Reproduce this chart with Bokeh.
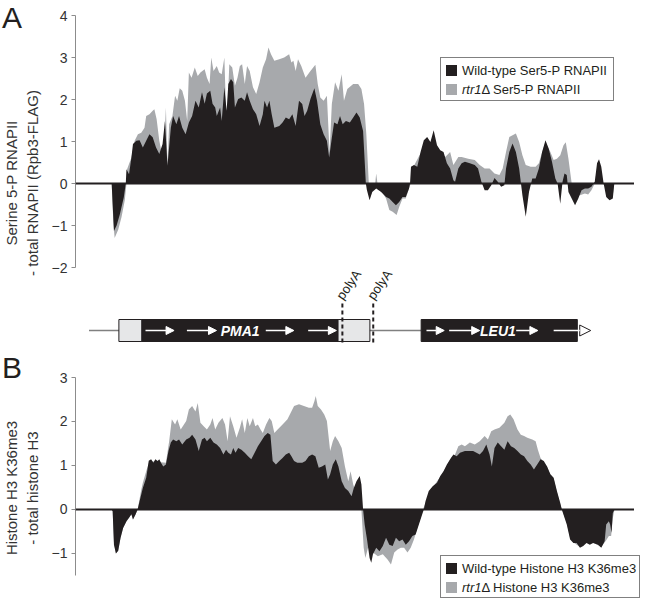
from bokeh.plotting import figure
from bokeh.models import (Range1d, FixedTicker, Arrow, Div, GridBox,
                          NormalHead, ColumnDataSource, Span)
from bokeh.embed import file_html
from bokeh.resources import INLINE
from bokeh.core.properties import value
import math

FONT = "Liberation Sans"
BLACK = "#231f20"
GRAY = "#a7a9ac"
LIGHT = "#e6e7e8"
AXIS = "#8c8c8c"
TXT = "#333333"

# ---------------- data (position along the locus, signal) ----------------
a_wt = [(111.7,0),(112.7,-0.5),(114,-1.13),(116.7,-1.0),(120,-0.73),(124,-0.33),(126,0),(126.7,0.34),
 (129.3,0.22),(131.7,0.62),(133.3,0.94),(136.7,1.02),(140,1.03),(143.3,0.86),(146.7,1.02),(150,1.17),
 (153.3,1.10),(156.7,0.86),(160,0.70),(163.3,0.94),(165.7,1.49),(168.3,0.42),(171.7,1.33),(174,1.61),
 (177.3,1.41),(180,1.61),(183.3,1.33),(186.7,1.17),(190,1.45),(193.3,1.61),(196.7,1.97),(200,1.81),
 (203.3,2.17),(206,1.90),(208.3,2.14),(211.7,2.21),(214,1.90),(216.7,1.81),(218.3,1.61),(221.7,1.81),
 (223.3,1.49),(226,2.29),(228.3,1.73),(230,2.37),(232.7,2.49),(235,2.41),(236.7,1.81),(240,2.01),
 (243.3,2.05),(246.7,1.97),(249,2.17),(251.7,1.97),(255,1.77),(258.3,1.65),(261.7,1.37),(265,1.65),
 (266.7,1.97),(269.3,1.81),(271.7,1.97),(274,1.65),(276.7,1.33),(281.7,1.37),(285,1.45),(288.3,1.57),
 (291.7,1.53),(295,1.65),(298.3,1.37),(301.7,1.97),(305,1.89),(307.3,1.61),(310,1.73),(313.3,2.01),
 (317.3,2.27),(320,1.97),(323.3,1.41),(326.7,1.17),(330,1.02),(332.3,0.62),(335,1.09),(337.3,1.45),
 (340.7,1.41),(343.3,1.61),(346,1.41),(349.3,1.49),(353.3,1.45),(356.7,1.57),(360,1.69),(363.3,1.57),
 (366.7,1.25),(368.5,0.46),(369.5,0),(370.5,-0.15),(373.3,-0.40),(376,-0.2),(380,-0.12),(385,-0.2),
 (390,-0.32),(393.3,-0.36),(396.7,-0.44),(400,-0.52),(403.3,-0.44),(406.7,-0.32),(410,-0.32),
 (413.3,-0.12),(414.3,0),(415.3,0.40),(418.3,0.44),(421.7,0.40),(425,0.75),(428.3,1.03),(431.7,1.11),
 (435,0.99),(438.3,1.27),(441.7,0.91),(445,0.79),(448.3,0.75),(451.7,0.48),(455,0.36),(458.3,0.08),
 (460,0.04),(463.3,0.36),(466.7,0.48),(470,0.52),(475,0.48),(480,0.44),(483.3,0.36),(486.7,0.04),
 (490,-0.16),(493.3,-0.16),(496.7,-0.04),(500,0.13),(503.3,0.04),(506.7,-0.08),(510,-0.04),(511.7,0.36),
 (515,0.75),(518.3,0.95),(521.7,0.75),(525,0.36),(528.3,-0.28),(531.7,-0.79),(535,-0.20),(538.3,0.12),
 (541.7,0.12),(545,0.36),(548.3,0.75),(551.7,1.03),(555,0.83),(558.3,0.52),(561.7,0.12),(564,0),
 (566.7,-0.48),(569,0.04),(571,0.24),(573.3,0.20),(575,-0.20),(578.3,-0.36),(581.7,-0.52),(585,-0.36),
 (588.3,-0.16),(591.7,-0.12),(595,-0.12),(598.3,-0.08),(601.7,0.04),(604,0.48),(606,0.58),(608.3,0.40),
 (610.7,0),(613.3,-0.32),(616.7,-0.40),(620,-0.36),(621.5,0)]

a_rtr1 = [(111.7,0),(113.3,-0.9),(114.7,-1.30),(118.3,-1.1),(121.7,-0.8),(125,-0.4),(126.7,0),(127.3,0.34),
 (131.7,0.62),(135,1.02),(138.3,1.17),(141.7,1.21),(145,1.33),(146.7,1.61),(150,1.65),(153.3,1.73),
 (155,1.77),(157.3,1.53),(160,1.02),(162.7,0.70),(165,0.94),(166.7,1.81),(168.3,0.42),(170,1.41),
 (173.3,1.61),(176,2.09),(178.3,1.97),(180.7,2.27),(183.3,2.21),(186,1.97),(188.3,1.49),(190,2.64),
 (192.7,2.52),(196,2.76),(199,2.56),(201.7,2.64),(206,2.72),(208.3,2.52),(211,2.37),(212.7,3.00),
 (215,2.68),(218.3,2.80),(220.7,2.64),(223.3,2.60),(226,3.00),(228.3,1.25),(231,2.84),(234,2.76),
 (236.7,2.33),(239.3,2.52),(241.7,2.80),(244,2.84),(246.7,2.37),(249,2.80),(251.7,2.68),(255,2.29),
 (258.3,2.13),(261.7,2.41),(265,2.76),(268.3,2.96),(270.7,3.24),(273.3,3.08),(276.7,2.92),(281.7,2.96),
 (286.7,3.00),(291.7,3.08),(294,2.88),(296,2.92),(298.3,2.68),(300.7,2.96),(304,2.80),(308.3,2.52),
 (313.3,2.68),(318.3,2.83),(320.7,2.37),(323.3,2.05),(326.7,1.97),(330,2.09),(332.7,0.74),(335,1.89),
 (338.3,2.41),(341.7,2.21),(345,2.60),(347.3,1.97),(350.7,2.25),(356.7,2.37),(361.7,2.37),(365,2.25),
 (367.7,1.89),(370,1.17),(371.7,0.38),(372.5,0),(374,-0.32),(376.7,-0.12),(379,0),(380,0.24),(381.3,0),
 (385,-0.16),(390,-0.36),(393.3,-0.63),(396.7,-0.67),(400.7,-0.75),(403.3,-0.56),(406.7,-0.36),
 (410,-0.36),(413.3,-0.12),(415,0),(416.7,0.35),(426.7,0.8),(436.7,1.0),(446.7,0.7),(450,0.63),
 (455,0.75),(458.3,0.44),(463.3,0.63),(466.7,0.63),(473.3,0.59),(480,0.56),(485,0.44),(490,0.36),
 (495,0.36),(500,0.24),(505,0.20),(508.3,0.36),(511.7,0.75),(515,1.11),(518.3,1.15),(521.7,1.19),
 (525,0.99),(528.3,0.67),(531.7,0.44),(536.7,0.40),(541.7,0.40),(545,0.48),(548.3,0.75),(551.7,0.99),
 (556.7,0.75),(560,0.56),(563.3,0.59),(566.7,0.67),(570,0.91),(572.3,0.98),(575,0.59),(578.3,0),
 (581.7,-0.28),(586.7,-0.28),(591.7,-0.24),(595,-0.26),(598.3,-0.16),(601.7,0),(605,0.52),(610,0),
 (616.7,-0.2),(620,-0.28),(621.5,0)]

b_wt = [(111.7,0),(112.7,-0.04),(114,-0.80),(116,-1.0),(118.3,-0.94),(120.7,-0.64),(123.3,-0.42),
 (126.7,-0.27),(129.3,-0.19),(131.7,-0.11),(133.3,-0.23),(136,-0.11),(138,0),(140,0.19),(143.3,0.49),
 (146.7,0.72),(149.3,1.11),(151.7,1.14),(154,1.06),(156,1.14),(158.3,1.10),(160,1.14),(161.7,1.06),
 (164,0.98),(166.7,1.02),(169.3,1.33),(171.7,1.52),(174,1.59),(177.3,1.55),(180,1.59),(183.3,1.48),
 (187.3,1.59),(190.7,1.63),(193.3,1.70),(196.7,1.59),(200,1.33),(203.3,1.59),(206,1.63),(208.3,1.55),
 (211.7,1.63),(215,1.52),(218.3,1.48),(221.7,1.40),(225,1.25),(227.7,1.36),(230,1.29),(232.7,1.25),
 (235,1.40),(237.3,1.29),(240,1.40),(243.3,1.36),(246.7,1.29),(250,1.21),(253.3,1.14),(256.7,1.29),
 (260,1.44),(263.3,1.55),(266.7,1.67),(270,1.74),(272.7,1.70),(275,1.10),(278.3,1.02),(281.7,1.10),
 (285,1.17),(288.3,1.25),(291.7,1.29),(294,1.21),(296.7,1.10),(300,1.06),(305,1.06),(308.3,1.10),
 (311.7,1.21),(315,1.25),(318.3,1.21),(321.7,0.95),(325,0.98),(328.3,1.02),(331,0.68),(333.3,0.80),
 (336,1.02),(339,1.14),(341.7,0.98),(345,0.64),(348.3,0.49),(351.7,0.42),(355,0.30),(357.3,0.49),
 (360,0.64),(363.3,0.76),(365,0.57),(366.7,0),(368.3,-0.34),(370.7,-0.68),(373.3,-1.10),(375,-1.21),
 (376.7,-1.02),(380,-0.87),(383.3,-0.95),(386.7,-0.83),(390,-0.64),(393.3,-0.80),(396.7,-0.83),
 (400,-0.64),(403.3,-0.72),(406.7,-0.68),(410,-0.80),(413.3,-0.72),(416.7,-0.60),(420,-0.57),
 (423.3,-0.34),(426.7,-0.11),(428.3,0),(430,0.19),(433.3,0.42),(437.3,0.53),(441.7,0.61),(445,0.76),
 (448.3,0.87),(451.7,1.02),(455,1.14),(458.3,1.25),(461.7,1.21),(465,1.29),(470,1.33),(475,1.33),
 (478.3,1.33),(481.7,1.29),(485,1.25),(488.3,1.33),(491.7,1.48),(495,1.25),(497.3,0.98),(500,1.40),
 (503.3,1.52),(506.7,1.44),(510,1.36),(513.3,1.55),(516.7,1.44),(520,1.40),(523.3,1.33),(526.7,1.25),
 (530,1.21),(533.3,1.10),(536.7,1.02),(540,0.91),(543.3,1.02),(546.7,1.14),(550,1.10),(553.3,0.98),
 (556.7,0.80),(560,0.72),(563.3,0.42),(566.7,0.15),(568.3,0),(573.3,-0.34),(576.7,-0.68),(580,-0.76),
 (583.3,-0.76),(586.7,-0.87),(590,-0.83),(593.3,-0.76),(596.7,-0.80),(600,-0.76),(605,-0.80),
 (608.3,-0.87),(611.7,-0.72),(613.3,-0.34),(616,-0.27),(617.3,-0.34),(618.7,-0.53),(620,-0.08),(621.7,0)]

b_rtr1 = [(111.7,0),(112.7,-0.04),(114,-0.75),(116,-1.0),(118.3,-0.94),(120.7,-0.64),(123.3,-0.42),
 (126.7,-0.27),(129.3,-0.19),(131.7,-0.11),(133.3,-0.23),(136,-0.11),(138,0),(141.7,0.45),(143.3,0.61),
 (146.7,0.87),(150,1.1),(166.7,1.06),(170,1.55),(172.7,2.05),(176,1.93),(178.3,2.05),(181.7,1.82),
 (185,1.93),(187.3,2.01),(190,2.27),(193.3,2.35),(196.7,2.23),(199,2.42),(201.7,1.97),(205,1.89),
 (208.3,1.82),(211.7,1.93),(214,2.08),(216.7,1.82),(220,1.97),(224,2.08),(226.7,1.93),(229.3,1.55),
 (231.7,2.12),(235,1.89),(238.3,1.63),(241.7,1.86),(244,2.05),(246.7,1.74),(249.3,2.08),(251.7,1.89),
 (255,2.08),(257.3,1.89),(260,1.93),(262.7,1.82),(265,1.74),(268.3,1.93),(271.7,2.08),(274,2.01),
 (276.7,1.74),(280,1.82),(283.3,1.89),(286.7,1.97),(290,2.05),(293.3,2.20),(296.7,2.35),(301.7,2.39),
 (306.7,2.35),(311.7,2.31),(315,2.31),(317.3,2.46),(318.7,2.58),(320.7,2.35),(324,2.27),(327.3,2.16),
 (330,2.01),(333.3,1.33),(336,1.55),(338.3,1.67),(341.7,1.55),(345,1.40),(348.3,0.98),(351.7,0.64),
 (354,0.87),(356.7,0.57),(360,0.34),(363.3,0.34),(365,0),(367.3,-0.87),(369,-1.10),(371.7,-0.87),
 (376.7,-0.98),(381.7,-1.06),(386.7,-1.02),(391.7,-1.14),(395,-1.25),(398.3,-0.98),(401.7,-0.91),
 (405,-0.87),(408.3,-0.87),(411.7,-0.98),(415,-0.87),(418.3,-0.68),(421.7,-0.42),(425,-0.19),(427.3,0),
 (430,0.15),(437.3,0.5),(446.7,0.8),(456.7,1.2),(460,1.25),(463.3,1.44),(466.7,1.48),(470,1.44),
 (475,1.52),(480,1.48),(485,1.55),(490,1.67),(493.3,1.59),(496.7,1.78),(500,1.82),(505,1.86),(510,1.97),
 (513.3,2.12),(516,2.16),(519.3,2.05),(523.3,1.82),(526.7,1.70),(530,1.67),(533.3,1.63),(538.3,1.59),
 (541.7,1.55),(544,1.36),(546.7,1.17),(550,1.06),(553.3,0.98),(556.7,0.78),(560,0.70),(563.3,0.40),
 (566.7,0.12),(568.3,0),(573.3,-0.3),(576.7,-0.65),(580,-0.75),(586.7,-0.85),(593.3,-0.75),(600,-0.75),
 (608.3,-0.85),(613.3,-0.7),(616,-0.6),(618.3,-0.6),(620,-0.2),(621.7,0)]

# series names
a_series = ["Wild-type Ser5-P RNAPII", "Ser5-P RNAPII"]
b_series = ["Wild-type Histone H3 K36me3", "Histone H3 K36me3"]
mutant = "rtr1"

# gene map
backbone = (88.7, 425.6)
feature_left = [119.0, 142.4, 341.3, 425.6]
feature_right = [142.4, 341.3, 373.6, 584.0]
feature_kind = ["utr", "orf", "utr", "orf"]
gene_names = ["PMA1", "LEU1"]
gene_label_x = [242.0, 503.5]
arrow_start = [146, 188, 268, 311, 431, 454, 522]
arrow_end = [175, 218, 296.5, 339.6, 449, 485, 544]
last_arrow = (560, 597.6)
polyA_x = [345.7, 377.0]

A_ticks = [-2, -1, 0, 1, 2, 3, 4]
B_ticks = [-1, 0, 1, 2, 3]

XR = (75, 642)


def style_axis(p, ticks, label, bounds):
    ax = p.yaxis[0]
    ax.ticker = FixedTicker(ticks=ticks)
    ax.bounds = bounds
    ax.axis_line_color = AXIS
    ax.axis_line_width = 1
    ax.major_tick_line_color = AXIS
    ax.major_tick_out = 4
    ax.major_tick_in = 0
    ax.minor_tick_line_color = None
    ax.major_label_text_font = FONT
    ax.major_label_text_font_size = "14px"
    ax.major_label_text_color = TXT
    ax.major_label_standoff = 4
    ax.axis_label = label
    ax.axis_label_text_font = FONT
    ax.axis_label_text_font_size = "15px"
    ax.axis_label_text_font_style = "normal"
    ax.axis_label_text_color = TXT
    ax.axis_label_standoff = 8


def panel(height, yr, top, ticks, label, bounds):
    p = figure(width=634, height=height, x_range=Range1d(*XR), y_range=Range1d(*yr),
               output_backend="svg", toolbar_location=None, x_axis_location=None,
               min_border_left=67, min_border_right=0, min_border_top=top,
               min_border_bottom=0)
    p.grid.visible = False
    p.outline_line_color = None
    style_axis(p, ticks, label, bounds)
    return p


def area(p, pairs, color):
    xs = [a for a, _ in pairs]
    ys = [b for _, b in pairs]
    return p.varea(x=xs, y1=[0] * len(xs), y2=ys, fill_color=color)


def legend_div(names, width, height, top, left):
    sq = ("display:inline-block;width:11px;height:11px;margin-right:5px;"
          "vertical-align:-1px;background:{}")
    html = (f'<div style="box-sizing:border-box;width:{width}px;height:{height}px;'
            f'border:1.5px solid #808080;background:#fff;padding:3px 0 0 5px;'
            f"font-family:'{FONT}';font-size:13px;line-height:19px;color:{BLACK};"
            f'white-space:nowrap">'
            f'<div><span style="{sq.format(BLACK)}"></span>{names[0]}</div>'
            f'<div><span style="{sq.format(GRAY)}"></span><i>{mutant}</i>&Delta; {names[1]}</div>'
            f'</div>')
    return Div(text=html, width=width, height=height, margin=(top, 0, 0, left))


# ---------------- panel A + gene map ----------------
pA = panel(350, (-3.976, 4), 15, A_ticks, "Serine 5-P RNAPII\n- total RNAPII (Rpb3-FLAG)", (-2, 4))
pA.extra_y_ranges = {"gene": Range1d(-1.818, 28.636)}
area(pA, a_rtr1, GRAY)
area(pA, a_wt, BLACK)
pA.add_layout(Span(location=0, dimension="width", line_color=BLACK, line_width=2))

G = "gene"
pA.segment(x0=[backbone[0]], y0=[0], x1=[backbone[1]], y1=[0], line_color="#808080",
           line_width=1.5, y_range_name=G)
fill = [LIGHT if k == "utr" else BLACK for k in feature_kind]
pA.quad(left=feature_left, right=feature_right, bottom=-1, top=1, fill_color=fill,
        line_color=BLACK, line_width=1, y_range_name=G)
arr = ColumnDataSource(dict(x0=arrow_start, x1=arrow_end, y=[0] * len(arrow_start)))
pA.add_layout(Arrow(source=arr, x_start="x0", y_start="y", x_end="x1", y_end="y",
                    line_color="white", line_width=1.5, y_range_name=G,
                    end=NormalHead(size=8, fill_color="white", line_color="white")))
pA.add_layout(Arrow(x_start=last_arrow[0], y_start=0, x_end=last_arrow[1], y_end=0,
                    line_color="white", line_width=1.5, y_range_name=G,
                    end=NormalHead(size=11, fill_color="white", line_color=BLACK, line_width=1)))
pA.text(x=gene_label_x, y=[0, 0], text=gene_names, text_align="center", text_baseline="middle",
        text_color="white", text_font=value(FONT), text_font_size="14px",
        text_font_style="bold italic", y_range_name=G)
pA.segment(x0=polyA_x, y0=[-1.1] * 2, x1=polyA_x, y1=[2.45] * 2, line_color=BLACK,
           line_width=2, line_dash="4 3", y_range_name=G)
pA.text(x=[v - 3 for v in polyA_x], y=[2.95] * 2, text=["polyA"] * 2, angle=math.radians(55),
        text_align="left", text_baseline="alphabetic", text_color=BLACK,
        text_font=value(FONT), text_font_size="13px", y_range_name=G)

# ---------------- panel B ----------------
pB = panel(248, (-2.023, 3), 27, B_ticks, "Histone H3 K36me3\n- total histone H3", (-1.5, 3))
area(pB, b_rtr1, GRAY)
area(pB, b_wt, BLACK)
pB.add_layout(Span(location=0, dimension="width", line_color=BLACK, line_width=2))

# ---------------- panel letters and legends ----------------
letter_style = {"font-family": FONT, "font-size": "30px", "color": BLACK, "line-height": "1.2"}
divA = Div(text="A", width=36, height=38, styles=letter_style, margin=(0, 0, 0, 2))
divB = Div(text="B", width=36, height=38, styles=letter_style, margin=(0, 0, 0, 2))
legA = legend_div(a_series, 174, 44, 57, 440)
legB = legend_div(b_series, 200, 43, 205, 440)

layout = GridBox(children=[(pA, 0, 0), (divA, 0, 0), (legA, 0, 0),
                           (pB, 1, 0), (divB, 1, 0), (legB, 1, 0)], spacing=0)
open("out.html", "w").write(file_html(layout, INLINE))
